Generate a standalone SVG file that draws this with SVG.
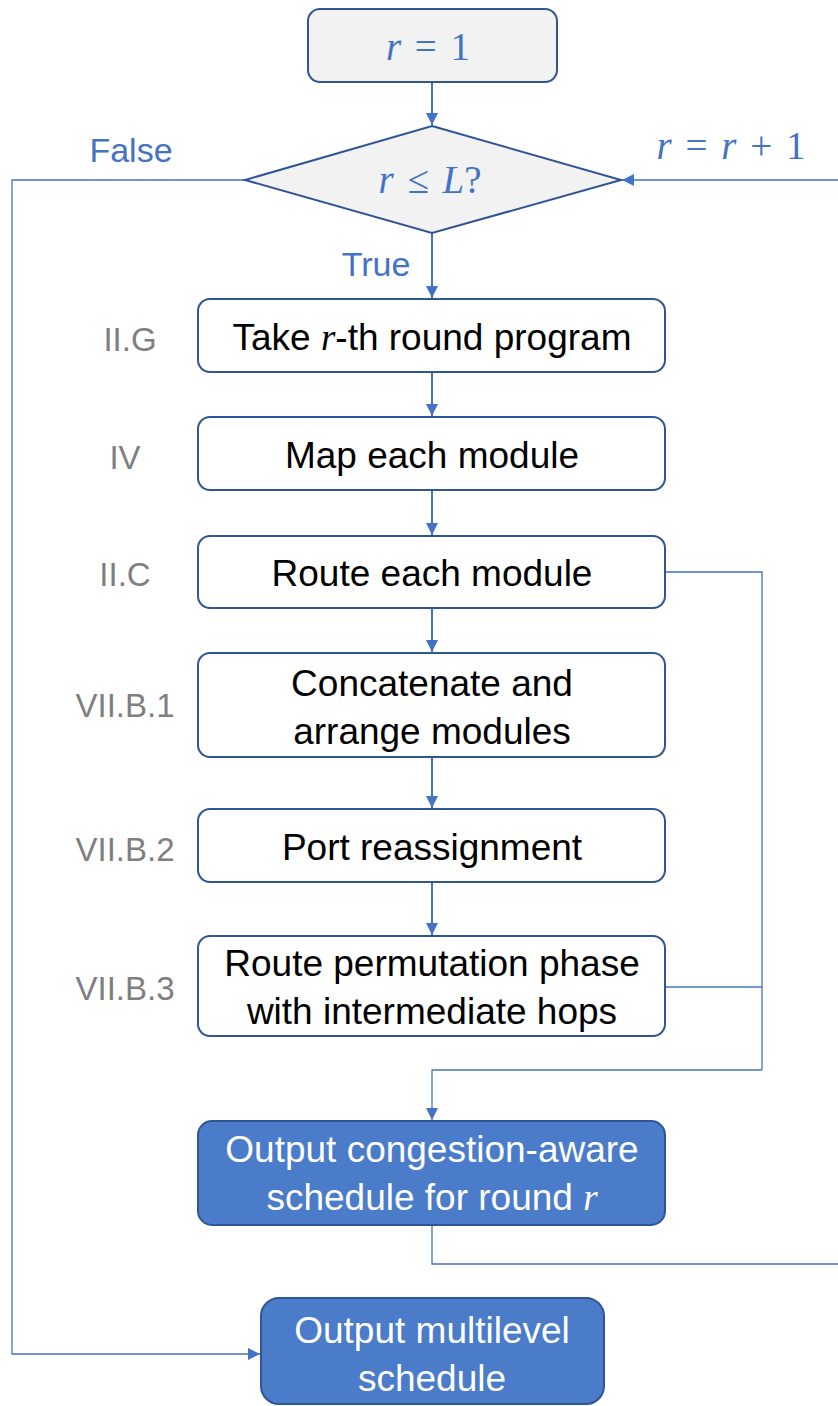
<svg xmlns="http://www.w3.org/2000/svg" width="838" height="1406" viewBox="0 0 838 1406">
<style>
.box{fill:#ffffff;stroke:#2f5597;stroke-width:2}
.gbox{fill:#f2f2f2;stroke:#2f5597;stroke-width:2}
.bbox{fill:#4a7cc9;stroke:#2f5597;stroke-width:2}
.t{font-family:"Liberation Sans",Arial,sans-serif;font-size:37px;fill:#000;text-anchor:middle}
.tw{font-family:"Liberation Sans",Arial,sans-serif;font-size:37px;fill:#fff;text-anchor:middle}
.m{font-family:"Liberation Serif","Times New Roman",serif;font-style:italic}
.mt{font-family:"Liberation Serif","Times New Roman",serif;font-size:39px;fill:#4472c4;text-anchor:middle;word-spacing:4px}
.lbl{font-family:"Liberation Sans",Arial,sans-serif;font-size:33px;fill:#7f7f7f;text-anchor:middle}
.bl{font-family:"Liberation Sans",Arial,sans-serif;font-size:34px;fill:#4472c4;text-anchor:middle}
.c{fill:none;stroke:#4472c4;stroke-width:2}
.c2{fill:none;stroke:#4472c4;stroke-width:1.3}
</style>
<defs>
<marker id="ah2" viewBox="0 0 10 10" refX="10" refY="5" markerWidth="12" markerHeight="12" markerUnits="userSpaceOnUse" orient="auto"><path d="M0,0 L10,5 L0,10 z" fill="#4472c4"/></marker>
</defs>
<g id="connectors">
<line class="c" x1="432" y1="82" x2="432" y2="125" marker-end="url(#ah2)"/>
<line class="c" x1="432" y1="233" x2="432" y2="298" marker-end="url(#ah2)"/>
<line class="c" x1="432" y1="372" x2="432" y2="416" marker-end="url(#ah2)"/>
<line class="c" x1="432" y1="490" x2="432" y2="535" marker-end="url(#ah2)"/>
<line class="c" x1="432" y1="608" x2="432" y2="652" marker-end="url(#ah2)"/>
<line class="c" x1="432" y1="757" x2="432" y2="808" marker-end="url(#ah2)"/>
<line class="c" x1="432" y1="882" x2="432" y2="935" marker-end="url(#ah2)"/>
<polyline class="c2" points="665,572 762,572 762,1070"/>
<polyline class="c2" points="665,987 762,987"/>
<polyline class="c2" points="762,1070 432,1070 432,1120" marker-end="url(#ah2)"/>
<polyline class="c2" points="432,1225 432,1264 838,1264"/>
<polyline class="c2" points="838,180 622,180" marker-end="url(#ah2)"/>
<polyline class="c2" points="245,180 12,180 12,1354 260,1354" marker-end="url(#ah2)"/>
<text class="bl" x="131" y="162">False</text>
<text class="bl" x="376" y="276">True</text>
<text class="mt" x="731" y="159"><tspan class="m">r</tspan> = <tspan class="m">r</tspan> + 1</text>
</g>
<g id="start">
<rect class="gbox" x="308" y="9" width="249" height="73" rx="12"/>
<text class="mt" x="428" y="60"><tspan class="m">r</tspan> = 1</text>
</g>
<g id="decision">
<polygon class="gbox" points="432,126 621,180 432,233 245,180"/>
<text class="mt" x="430" y="193"><tspan class="m">r</tspan> ≤ <tspan class="m">L</tspan>?</text>
</g>
<g id="take">
<rect class="box" x="198" y="299" width="467" height="73" rx="12"/>
<text class="t" x="432" y="350">Take <tspan class="m">r</tspan>-th round program</text>
<text class="lbl" x="130" y="351">II.G</text>
</g>
<g id="map">
<rect class="box" x="198" y="417" width="467" height="73" rx="12"/>
<text class="t" x="432" y="468">Map each module</text>
<text class="lbl" x="125" y="469">IV</text>
</g>
<g id="route">
<rect class="box" x="198" y="536" width="467" height="72" rx="12"/>
<text class="t" x="432" y="586">Route each module</text>
<text class="lbl" x="125" y="586">II.C</text>
</g>
<g id="concat">
<rect class="box" x="198" y="653" width="467" height="104" rx="12"/>
<text class="t" x="432" y="696">Concatenate and</text>
<text class="t" x="432" y="744">arrange modules</text>
<text class="lbl" x="125" y="717">VII.B.1</text>
</g>
<g id="port">
<rect class="box" x="198" y="809" width="467" height="73" rx="12"/>
<text class="t" x="432" y="860">Port reassignment</text>
<text class="lbl" x="125" y="861">VII.B.2</text>
</g>
<g id="perm">
<rect class="box" x="198" y="936" width="467" height="100" rx="12"/>
<text class="t" x="432" y="976">Route permutation phase</text>
<text class="t" x="432" y="1024">with intermediate hops</text>
<text class="lbl" x="125" y="1000">VII.B.3</text>
</g>
<g id="outround">
<rect class="bbox" x="198" y="1121" width="467" height="104" rx="14"/>
<text class="tw" x="432" y="1162">Output congestion-aware</text>
<text class="tw" x="432" y="1210">schedule for round <tspan class="m">r</tspan></text>
</g>
<g id="outmulti">
<rect class="bbox" x="261" y="1298" width="343" height="106" rx="18"/>
<text class="tw" x="432" y="1343">Output multilevel</text>
<text class="tw" x="432" y="1391">schedule</text>
</g>
</svg>
